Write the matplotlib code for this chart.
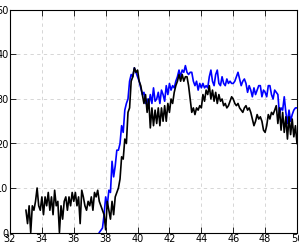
import numpy as np
import matplotlib
matplotlib.use('Agg')
import matplotlib.pyplot as plt

# black trace, sampled every 0.1 from 33.0 to 50.0
black_start = 33.0
black = [5, 2, 6, 0, 6, 5, 7, 10, 6, 5,
         8, 4, 8, 6, 9, 5, 8, 4, 9.5, 6,
         7, 0, 6, 3, 7, 8, 5, 8, 6, 9,
         7, 9, 6, 8, 2, 9.5, 8, 6, 5, 7,
         6, 8, 5, 9, 8, 9.5, 7, 6, 5, 4,
         0.6, 7, 5, 3, 7, 4, 8, 9, 10, 12,
         17, 16.5, 21, 20, 27, 28, 34, 35, 37, 36,
         36.5, 34, 33, 31, 29, 31, 27, 30, 23.5, 28,
         24, 27.5, 24.5, 28, 24, 28, 25, 28.5, 25, 29,
         27, 30, 29, 31.5, 33, 34, 35.5, 34, 35.5, 34,
         35, 35, 33, 30, 27, 28, 26.5, 28, 27.5, 28.5,
         28, 31, 29.5, 32, 31, 33, 30, 32, 29.5, 31.5,
         29, 31, 29.5, 30, 28.5, 29, 28, 28.5, 29.5, 30.5,
         30, 29, 28.5, 29, 28, 27.5, 27, 28, 28.5, 27.5,
         28, 27, 25.5, 24, 25, 26.5, 25.5, 26, 25, 23,
         22.5, 24, 26.5, 25.5, 27, 26.5, 27.5, 28.5, 24.5, 28,
         23, 27, 22.5, 26, 21, 26, 22, 25.5, 21.5, 24,
         20]

# blue trace, sampled every 0.1 from 37.6 to 50.0
blue_start = 37.6
blue = [0, 0.5, 1, 4,
        8, 6, 9.5, 9, 16, 12.5, 15, 18.5, 18.5, 20,
        24, 22.5, 27.5, 29, 30, 34, 35.5, 35, 37, 36,
        35, 34, 32.5, 31, 31.5, 29, 30, 28.5, 31, 29,
        32.5, 29.5, 30, 31.5, 29, 32, 31, 29.5, 33, 31,
        33.5, 32, 33, 32.5, 34, 35, 36.5, 35, 36.5, 36,
        37.5, 36, 35.5, 36, 36, 34, 33, 34, 32, 33.5,
        32.5, 33.5, 32.5, 33, 32.5, 35, 36.5, 34, 33, 35.5,
        36.5, 33.5, 33, 35, 33.5, 33, 34.5, 33.5, 34, 33.5,
        33.5, 34, 35, 36, 34.5, 33, 34, 34.5, 33.5, 31.5,
        33, 32, 30.5, 32.5, 31, 32, 33, 33, 30.5, 32,
        31.5, 30.5, 33, 33, 31, 30, 32, 31.5, 31, 26.5,
        28, 27.5, 30.5, 27, 24.5, 27.5, 25, 26.5, 27.5, 28,
        28]

black_x = black_start + 0.1 * np.arange(len(black))
blue_x = blue_start + 0.1 * np.arange(len(blue))

fig = plt.figure(figsize=(2.99, 2.43), dpi=100)
ax = fig.add_axes([10 / 299, 10.5 / 243, 287 / 299, 222.5 / 243])

ax.plot(blue_x, blue, color='#0000ff', lw=1.2)
ax.plot(black_x, black, color='black', lw=1.2)

ax.set_xlim(32, 50)
ax.set_ylim(0, 50)
ax.set_xticks(np.arange(32, 51, 2))
ax.set_yticks(np.arange(0, 51, 10))
ax.grid(True, color='#d0d0d0', linestyle=(0, (4, 4)), linewidth=0.6)
ax.tick_params(direction='in', length=4, width=0.6, labelsize=7, pad=1,
               top=True, right=True)
for s in ax.spines.values():
    s.set_linewidth(0.8)

fig.savefig('out.png', dpi=100)
